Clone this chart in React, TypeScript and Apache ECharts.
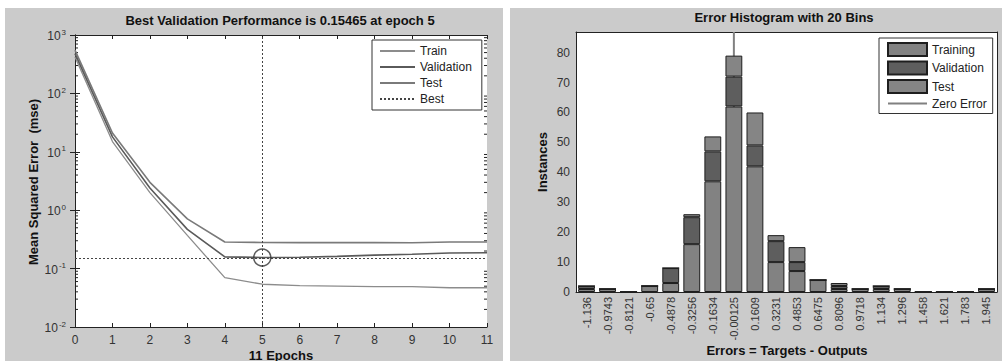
import React, { useEffect, useRef } from "react";
import * as echarts from "echarts";

// ---------- Left chart data (performance) ----------
const epochs = [0, 1, 2, 3, 4, 5, 6, 7, 8, 9, 10, 11];
const trainPerf = [420, 15, 2.0, 0.37, 0.07, 0.054, 0.051, 0.05, 0.049, 0.049, 0.047, 0.047];
const valPerf = [480, 18, 2.4, 0.47, 0.159, 0.15465, 0.156, 0.162, 0.17, 0.176, 0.185, 0.187];
const testPerf = [550, 21, 3.0, 0.71, 0.285, 0.28, 0.279, 0.278, 0.278, 0.277, 0.285, 0.286];
const bestEpoch = 5;
const bestValue = 0.15465;
const logDecades = [0.01, 0.1, 1, 10, 100];
const minorMultipliers = [2, 3, 4, 5, 6, 7, 8, 9];

// ---------- Right chart data (histogram) ----------
const binLabels = [
  "-1.136", "-0.9743", "-0.8121", "-0.65", "-0.4878", "-0.3256", "-0.1634", "-0.00125",
  "0.1609", "0.3231", "0.4853", "0.6475", "0.8096", "0.9718", "1.134", "1.296",
  "1.458", "1.621", "1.783", "1.945",
];
const trainingCounts = [1, 1, 0, 2, 3, 16, 37, 62, 42, 10, 7, 4, 1, 1, 1, 1, 0, 0, 0, 1];
const validationCounts = [1, 0, 0, 0, 5, 9, 10, 10, 7, 7, 3, 0, 1, 0, 1, 0, 0, 0, 0, 0];
const testCounts = [0, 0, 0, 0, 0, 1, 5, 7, 11, 2, 5, 0, 1, 0, 0, 0, 0, 0, 0, 0];
const zeroErrorBin = "-0.00125";
const histMax = 86.9;

const FONT = '"Liberation Sans", Arial, Helvetica, sans-serif';
const AXIS = "#222";
const LABEL = "#333";

const legendNames: Record<string, string> = {
  hTraining: "Training",
  hValidation: "Validation",
  hTest: "Test",
  hZero: "Zero Error",
};

export default function App() {
  const ref = useRef<HTMLDivElement>(null);

  useEffect(() => {
    if (!ref.current) return;
    const chart = echarts.init(ref.current, undefined, { renderer: "svg" });

    const minorTicks: number[] = [];
    logDecades.forEach((d) => minorMultipliers.forEach((m) => minorTicks.push(d * m)));

    const supLabel = (v: number) => {
      const e = Math.round(Math.log10(v));
      return "{b|10}{s|" + e + "}";
    };

    const hidden = { opacity: 0 };

    const option: any = {
      animation: false,
      textStyle: { fontFamily: FONT },
      grid: [
        { left: 75, top: 35, width: 412, height: 292, show: true, backgroundColor: "#fff", borderWidth: 0 },
        { left: 576, top: 32, width: 421, height: 260, show: true, backgroundColor: "#fff", borderWidth: 0 },
      ],
      xAxis: [
        {
          gridIndex: 0, type: "value", min: 0, max: 11, interval: 1,
          axisLine: { show: true, lineStyle: { color: AXIS } },
          axisTick: { inside: true, length: 4, lineStyle: { color: AXIS } },
          axisLabel: { color: LABEL, fontSize: 12, margin: 7, fontFamily: FONT },
          splitLine: { show: false },
        },
        {
          gridIndex: 0, type: "value", min: 0, max: 11, interval: 1, position: "top",
          axisLine: { show: true, onZero: false, lineStyle: { color: AXIS } },
          axisTick: { inside: true, length: 4, lineStyle: { color: AXIS } },
          axisLabel: { show: false }, splitLine: { show: false },
        },
        {
          gridIndex: 1, type: "category", data: binLabels, boundaryGap: true,
          axisLine: { show: true, lineStyle: { color: AXIS } },
          axisTick: { inside: true, length: 4, alignWithLabel: true, lineStyle: { color: AXIS } },
          axisLabel: { rotate: 90, color: LABEL, fontSize: 11, margin: 5, interval: 0, fontFamily: FONT },
          splitLine: { show: false },
        },
        {
          gridIndex: 1, type: "category", data: binLabels, boundaryGap: true, position: "top",
          axisLine: { show: true, onZero: false, lineStyle: { color: AXIS } },
          axisTick: { inside: true, length: 4, alignWithLabel: true, lineStyle: { color: AXIS } },
          axisLabel: { show: false }, splitLine: { show: false },
        },
      ],
      yAxis: [
        {
          gridIndex: 0, type: "log", logBase: 10, min: 0.01, max: 1000,
          axisLine: { show: true, lineStyle: { color: AXIS } },
          axisTick: { inside: true, length: 5, lineStyle: { color: AXIS } },
          axisLabel: {
            formatter: supLabel, margin: 9,
            rich: {
              b: { fontSize: 12, color: LABEL, lineHeight: 14, verticalAlign: "bottom", fontFamily: FONT },
              s: { fontSize: 8, color: LABEL, lineHeight: 8, verticalAlign: "top", padding: [0, 0, 4, 1], fontFamily: FONT },
            },
          },
          splitLine: { show: false }, minorTick: { show: false },
        },
        {
          gridIndex: 0, type: "log", logBase: 10, min: 0.01, max: 1000, position: "right",
          axisLine: { show: true, lineStyle: { color: AXIS } },
          axisTick: { inside: true, length: 5, lineStyle: { color: AXIS } },
          axisLabel: { show: false }, splitLine: { show: false },
        },
        {
          gridIndex: 1, type: "value", min: 0, max: histMax, interval: 10,
          axisLine: { show: true, lineStyle: { color: AXIS } },
          axisTick: { inside: true, length: 4, lineStyle: { color: AXIS } },
          axisLabel: { color: LABEL, fontSize: 12, margin: 6, showMaxLabel: false, fontFamily: FONT },
          splitLine: { show: false },
        },
        {
          gridIndex: 1, type: "value", min: 0, max: histMax, interval: 10, position: "right",
          axisLine: { show: true, lineStyle: { color: AXIS } },
          axisTick: { inside: true, length: 4, lineStyle: { color: AXIS } },
          axisLabel: { show: false }, splitLine: { show: false },
        },
      ],
      legend: [
        {
          data: [
            { name: "Train", itemStyle: hidden },
            { name: "Validation", itemStyle: hidden },
            { name: "Test", itemStyle: hidden },
            { name: "Best", itemStyle: hidden },
          ],
          orient: "vertical", left: 372, top: 40,
          padding: [5, 10, 5, 7], itemWidth: 35, itemHeight: 12, itemGap: 4,
          backgroundColor: "#fff", borderColor: "#333", borderWidth: 1,
          textStyle: { fontSize: 12, color: "#222", fontFamily: FONT },
          selectedMode: false,
        },
        {
          data: [
            { name: "hTraining", icon: "rect" },
            { name: "hValidation", icon: "rect" },
            { name: "hTest", icon: "rect" },
            { name: "hZero", itemStyle: hidden },
          ],
          formatter: (n: string) => legendNames[n] || n,
          orient: "vertical", left: 879, top: 38,
          padding: [4, 6, 4, 8], itemWidth: 39, itemHeight: 13, itemGap: 3.5,
          backgroundColor: "#fff", borderColor: "#333", borderWidth: 1,
          textStyle: { fontSize: 12, color: "#222", fontFamily: FONT },
          selectedMode: false,
        },
      ],
      series: [
        {
          name: "Train", type: "line", xAxisIndex: 0, yAxisIndex: 0, symbol: "none",
          data: epochs.map((e, i) => [e, trainPerf[i]]),
          lineStyle: { color: "#8c8c8c", width: 1.3 }, itemStyle: { color: "#8c8c8c" }, z: 3,
        },
        {
          name: "Validation", type: "line", xAxisIndex: 0, yAxisIndex: 0, symbol: "none",
          data: epochs.map((e, i) => [e, valPerf[i]]),
          lineStyle: { color: "#5a5a5a", width: 1.6 }, itemStyle: { color: "#5a5a5a" }, z: 4,
        },
        {
          name: "Test", type: "line", xAxisIndex: 0, yAxisIndex: 0, symbol: "none",
          data: epochs.map((e, i) => [e, testPerf[i]]),
          lineStyle: { color: "#7a7a7a", width: 1.6 }, itemStyle: { color: "#7a7a7a" }, z: 3,
        },
        {
          name: "Best", type: "line", xAxisIndex: 0, yAxisIndex: 0, symbol: "none", data: [],
          lineStyle: { color: "#444", width: 1, type: "dotted" }, itemStyle: { color: "#444" },
          markLine: {
            silent: true, symbol: "none", label: { show: false },
            lineStyle: { color: "#444", width: 1, type: [2, 2] },
            data: [{ xAxis: bestEpoch }, { yAxis: bestValue }],
          },
        },
        {
          name: "BestPoint", type: "scatter", xAxisIndex: 0, yAxisIndex: 0,
          data: [[bestEpoch, bestValue]], symbol: "circle", symbolSize: 17,
          itemStyle: { color: "rgba(0,0,0,0)", borderColor: "#333", borderWidth: 1.5 }, z: 6,
        },
        {
          name: "minorTicks", type: "custom", xAxisIndex: 0, yAxisIndex: 0, silent: true,
          data: minorTicks.map((v) => [0, v]),
          renderItem: (params: any, api: any) => {
            const v = api.value(1);
            const p0 = api.coord([0, v]);
            const p1 = api.coord([11, v]);
            return {
              type: "group",
              children: [
                { type: "line", shape: { x1: p0[0], y1: p0[1], x2: p0[0] + 3, y2: p0[1] }, style: { stroke: AXIS, lineWidth: 1 } },
                { type: "line", shape: { x1: p1[0] - 3, y1: p1[1], x2: p1[0], y2: p1[1] }, style: { stroke: AXIS, lineWidth: 1 } },
              ],
            };
          },
        },
        {
          name: "hTraining", type: "bar", xAxisIndex: 2, yAxisIndex: 2, stack: "h", barWidth: "80%",
          data: trainingCounts,
          itemStyle: { color: "#828282", borderColor: "#1e1e1e", borderWidth: 1 }, z: 3,
        },
        {
          name: "hValidation", type: "bar", xAxisIndex: 2, yAxisIndex: 2, stack: "h", barWidth: "80%",
          data: validationCounts,
          itemStyle: { color: "#5e5e5e", borderColor: "#1e1e1e", borderWidth: 1 }, z: 3,
        },
        {
          name: "hTest", type: "bar", xAxisIndex: 2, yAxisIndex: 2, stack: "h", barWidth: "80%",
          data: testCounts,
          itemStyle: { color: "#858585", borderColor: "#1e1e1e", borderWidth: 1 }, z: 3,
        },
        {
          name: "hZero", type: "line", xAxisIndex: 2, yAxisIndex: 2, symbol: "none",
          data: [[zeroErrorBin, 0], [zeroErrorBin, histMax]],
          lineStyle: { color: "#808080", width: 2 }, itemStyle: { color: "#808080" }, z: 1,
        },
      ],
      graphic: [
        {
          type: "text", x: 280, y: 20,
          style: { text: "Best Validation Performance is 0.15465 at epoch 5", font: "bold 13px " + FONT, fill: "#111", align: "center", verticalAlign: "middle", textAlign: "center", textVerticalAlign: "middle" },
        },
        {
          type: "text", x: 784, y: 17,
          style: { text: "Error Histogram with 20 Bins", font: "bold 13px " + FONT, fill: "#111", align: "center", verticalAlign: "middle", textAlign: "center", textVerticalAlign: "middle" },
        },
        {
          type: "text", x: 281, y: 355,
          style: { text: "11 Epochs", font: "bold 13px " + FONT, fill: "#111", align: "center", verticalAlign: "middle", textAlign: "center", textVerticalAlign: "middle" },
        },
        {
          type: "text", x: 787, y: 350,
          style: { text: "Errors = Targets - Outputs", font: "bold 13px " + FONT, fill: "#111", align: "center", verticalAlign: "middle", textAlign: "center", textVerticalAlign: "middle" },
        },
        {
          type: "text", x: 33, y: 182, rotation: Math.PI / 2,
          style: { text: "Mean Squared Error  (mse)", font: "bold 13px " + FONT, fill: "#111", align: "center", verticalAlign: "middle", textAlign: "center", textVerticalAlign: "middle" },
        },
        {
          type: "text", x: 542, y: 162, rotation: Math.PI / 2,
          style: { text: "Instances", font: "bold 13px " + FONT, fill: "#111", align: "center", verticalAlign: "middle", textAlign: "center", textVerticalAlign: "middle" },
        },
      ],
    };

    chart.setOption(option);
    return () => chart.dispose();
  }, []);

  return (
    <div style={{ position: "absolute", left: 0, top: 0, width: 1002, height: 361, background: "#fff" }}>
      <div style={{ position: "absolute", left: 5, top: 8, width: 498, height: 353, background: "#cbcbcb" }} />
      <div style={{ position: "absolute", left: 510, top: 8, width: 492, height: 353, background: "#cbcbcb" }} />
      <div ref={ref} style={{ position: "absolute", left: 0, top: 0, width: 1002, height: 361 }} />
    </div>
  );
}
